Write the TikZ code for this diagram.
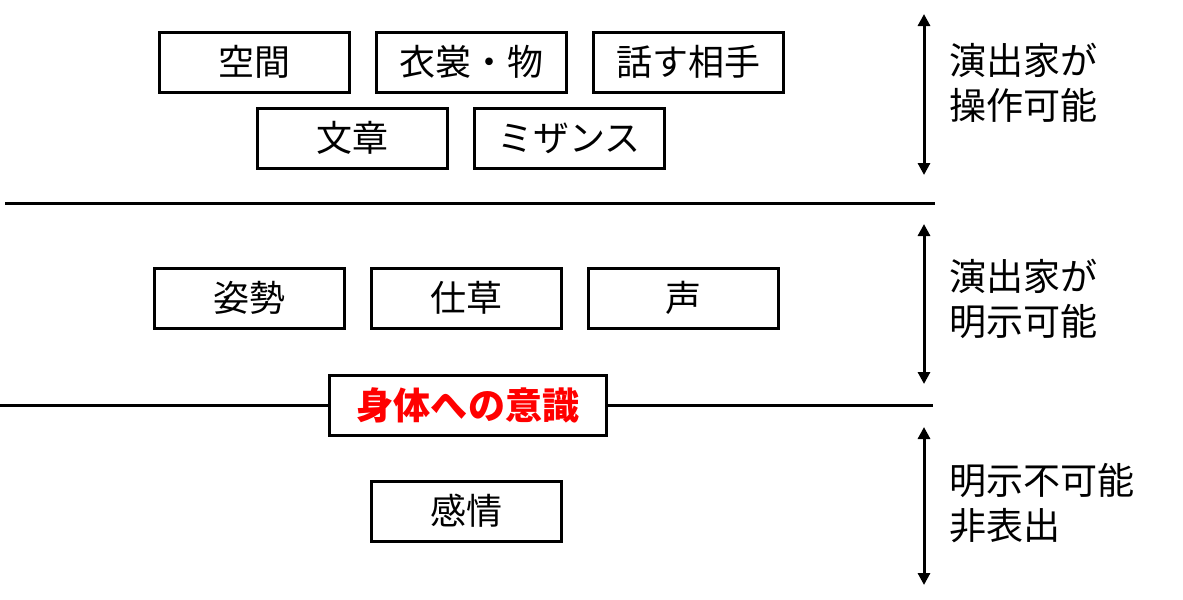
\documentclass[tikz,border=0pt]{standalone}
\usepackage{fontspec}
\usepackage{tikz}
\usetikzlibrary{arrows.meta}
\newfontfamily\jpFont{Noto Sans CJK JP}
\definecolor{ishikiRed}{RGB}{255, 0, 0}

\tikzset{
  itemBox/.style={draw, line width=2.25pt, minimum width=190*0.75pt, minimum height=60*0.75pt,
    inner sep=0pt, font=\jpFont\fontsize{27}{31}\selectfont},
  sideNote/.style={anchor=west, align=left, inner sep=0pt, font=\jpFont\fontsize{27.8}{34}\selectfont},
  rangeArrow/.style={line width=2.25pt, {Triangle[width=9pt,length=9pt]}-{Triangle[width=9pt,length=9pt]}},
  border/.style={line width=2.25pt}
}

\begin{document}
\begin{tikzpicture}[x=0.75pt, y=-0.75pt]
\useasboundingbox (0,0) rectangle (1183,600);

% top layer
\node[itemBox] (kukan) at (254,62) {空間};
\node[itemBox] (isho) at (471,62) {衣裳・物};
\node[itemBox] (aite) at (688,62) {話す相手};
\node[itemBox] (bunsho) at (352,138) {文章};
\node[itemBox] (mizansu) at (569,138) {ミザンス};

\coordinate (topL) at (5,203);
\coordinate (topR) at (935,203);
\draw[border] (topL) -- (topR);

% middle layer
\node[itemBox] (shisei) at (249,298) {姿勢};
\node[itemBox] (shigusa) at (466,298) {仕草};
\node[itemBox] (koe) at (683,298) {声};

\node[itemBox, minimum width=277*0.75pt, fill=white, text=ishikiRed,
  font=\jpFont\bfseries\fontsize{27.8}{31}\selectfont] (ishiki) at (468,405) {身体への意識};
\coordinate (midL) at (0,405);
\coordinate (midR) at (933,405);
\draw[border] (midL) -- (ishiki.west);
\draw[border] (ishiki.east) -- (midR);

% bottom layer
\node[itemBox] (kanjo) at (466,511) {感情};

% ranges on the right
\coordinate (a1) at (924,14);   \coordinate (b1) at (924,175);
\coordinate (a2) at (924,224);  \coordinate (b2) at (924,384);
\coordinate (a3) at (924,427);  \coordinate (b3) at (924,585);
\draw[rangeArrow] (a1) -- (b1);
\draw[rangeArrow] (a2) -- (b2);
\draw[rangeArrow] (a3) -- (b3);

\node[sideNote] (sousa) at (949,83) {演出家が\\操作可能};
\node[sideNote] (meiji) at (949,299) {演出家が\\明示可能};
\node[sideNote] (hyoshutsu) at (949,503) {明示不可能\\非表出};
\end{tikzpicture}
\end{document}
